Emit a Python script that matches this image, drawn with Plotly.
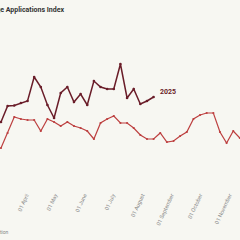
import plotly.graph_objects as go
import pandas as pd

# Weekly index values
dates_2025 = pd.date_range("2025-03-05", periods=24, freq="7D")
values_2025 = [228, 244, 244.5, 247, 249, 273, 263, 245, 232, 257, 263, 248,
               256, 245, 269, 263, 261, 261, 286, 252, 261, 246, 249, 253]

dates_2024 = pd.date_range("2025-03-05", periods=37, freq="7D")
values_2024 = [202, 217, 233, 231, 230, 230, 219, 231, 228, 224, 228, 224,
               222, 219, 211, 227, 231, 234, 227, 227, 222, 215, 211, 211,
               217, 208, 209, 214, 218, 231, 235, 237, 237, 218, 207, 219, 212]

tick_vals = pd.date_range("2025-04-01", "2025-11-01", freq="MS")
tick_text = [d.strftime("%d %B") for d in tick_vals]

c2025 = "#6a1d29"
c2024 = "#bd4040"
bg = "#f7f7f2"

fig = go.Figure()
fig.add_trace(go.Scatter(x=dates_2024, y=values_2024, mode="lines+markers",
                         name="2024", line=dict(color=c2024, width=1.2),
                         marker=dict(size=2.2, color=c2024)))
fig.add_trace(go.Scatter(x=dates_2025, y=values_2025, mode="lines+markers",
                         name="2025", line=dict(color=c2025, width=1.5),
                         marker=dict(size=2.6, color=c2025)))

fig.add_annotation(x=dates_2025[-1], y=values_2025[-1], text="<b>2025</b>",
                   showarrow=False, xanchor="left", xshift=4, yshift=5,
                   font=dict(family="Roboto", size=7, color=c2025))
fig.add_annotation(xref="paper", yref="paper", x=11/240, y=-0.2625,
                   xanchor="right", yanchor="middle", showarrow=False,
                   text="Source: Mortgage Bankers Association",
                   font=dict(family="Roboto", size=5, color="#888888"))

fig.update_layout(
    width=240, height=240,
    margin=dict(l=0, r=0, t=30, b=50),
    paper_bgcolor=bg, plot_bgcolor=bg,
    showlegend=False,
    title=dict(text="<b>Mortgage Applications Index</b>", xref="container",
               yref="container", x=64/240, y=1 - 10/240,
               xanchor="right", yanchor="middle",
               font=dict(family="Roboto", size=7, color="#333333")),
    xaxis=dict(range=["2025-03-03 23:00", "2025-11-12 03:00"],
               tickvals=tick_vals, ticktext=tick_text, tickangle=-65,
               showgrid=False, zeroline=False, showline=False, ticks="",
               tickfont=dict(family="Roboto", size=5.5, color="#8a8a8a")),
    yaxis=dict(range=[160, 320], visible=False, showgrid=False),
)

fig.write_html("out.html")
